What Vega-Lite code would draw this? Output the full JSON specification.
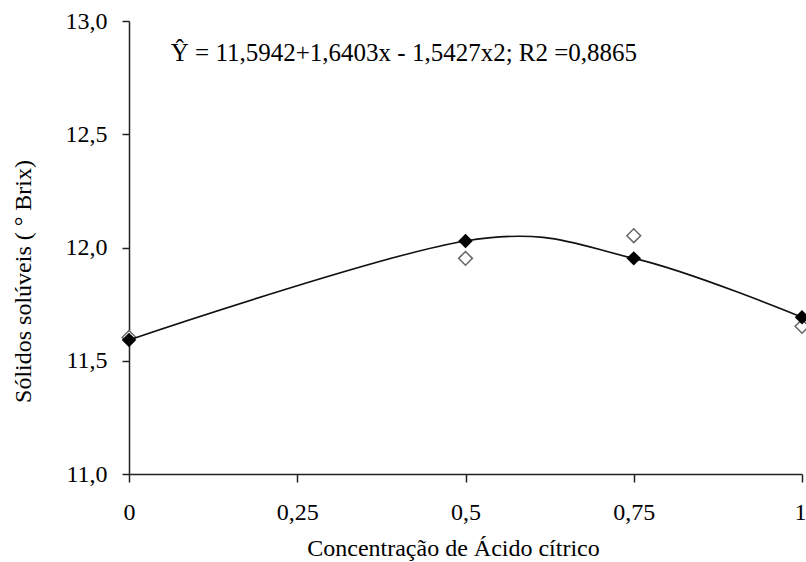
{
  "$schema": "https://vega.github.io/schema/vega-lite/v6.json",
  "width": 673,
  "height": 453,
  "autosize": {"type": "none"},
  "padding": {"left": 129, "top": 21, "right": 4, "bottom": 88},
  "background": "white",
  "config": {
    "view": {"stroke": null},
    "font": "Liberation Serif",
    "axis": {
      "grid": false,
      "domainColor": "#222",
      "domainWidth": 1.5,
      "tickColor": "#222",
      "tickWidth": 1.5,
      "labelFont": "Liberation Serif",
      "labelFontSize": 24,
      "labelColor": "#000",
      "titleFont": "Liberation Serif",
      "titleFontSize": 24,
      "titleFontWeight": "normal",
      "titleColor": "#000"
    }
  },
  "data": {
    "values": [
      {"x": 0, "pred": 11.592, "obs": 11.603},
      {"x": 0.5, "pred": 12.029, "obs": 11.952},
      {"x": 0.75, "pred": 11.952, "obs": 12.052},
      {"x": 1, "pred": 11.692, "obs": 11.652}
    ]
  },
  "layer": [
    {
      "mark": {"type": "point", "shape": "diamond", "filled": true, "fill": "white", "stroke": "#666", "strokeWidth": 1.5, "size": 190, "opacity": 1},
      "encoding": {
        "x": {
          "field": "x", "type": "quantitative",
          "scale": {"domain": [0, 1], "nice": false, "zero": false},
          "axis": {
            "values": [0, 0.25, 0.5, 0.75, 1],
            "tickSize": 8,
            "labelPadding": 18,
            "labelExpr": "replace(toString(datum.value), '.', ',')",
            "labelAlign": {"condition": {"test": "datum.value == 1", "value": "right"}, "value": "center"},
            "labelOffset": {"condition": {"test": "datum.value == 1", "value": 4}, "value": 0},
            "labelFlush": false,
            "labelOverlap": false,
            "title": "Concentração de Ácido cítrico",
            "titleX": 324,
            "titleY": 74,
            "titleBaseline": "middle",
            "titleAlign": "center"
          }
        },
        "y": {
          "field": "obs", "type": "quantitative",
          "scale": {"domain": [11, 13], "nice": false, "zero": false},
          "axis": {
            "values": [11, 11.5, 12, 12.5, 13],
            "tickSize": 7,
            "labelPadding": 15,
            "labelExpr": "replace(format(datum.value, '.1f'), '.', ',')",
            "labelFlush": false,
            "labelOverlap": false,
            "title": "Sólidos solúveis  ( ° Brix)",
            "titleAngle": 270,
            "titleX": -106,
            "titleY": 260,
            "titleAlign": "center",
            "titleBaseline": "middle"
          }
        }
      }
    },
    {
      "mark": {"type": "line", "interpolate": "cardinal", "tension": 0, "color": "#111", "strokeWidth": 1.6},
      "encoding": {
        "x": {"field": "x", "type": "quantitative"},
        "y": {"field": "pred", "type": "quantitative", "title": "Sólidos solúveis  ( ° Brix)"}
      }
    },
    {
      "mark": {"type": "point", "shape": "diamond", "filled": true, "color": "#000", "size": 210, "opacity": 1},
      "encoding": {
        "x": {"field": "x", "type": "quantitative"},
        "y": {"field": "pred", "type": "quantitative", "title": "Sólidos solúveis  ( ° Brix)"}
      }
    },
    {
      "data": {"values": [{"label": "Ŷ = 11,5942+1,6403x - 1,5427x2; R2 =0,8865"}]},
      "mark": {"type": "text", "align": "left", "baseline": "alphabetic", "font": "Liberation Serif", "fontSize": 25, "color": "#000"},
      "encoding": {
        "x": {"datum": 0.062},
        "y": {"datum": 12.823},
        "text": {"field": "label"}
      }
    }
  ]
}
